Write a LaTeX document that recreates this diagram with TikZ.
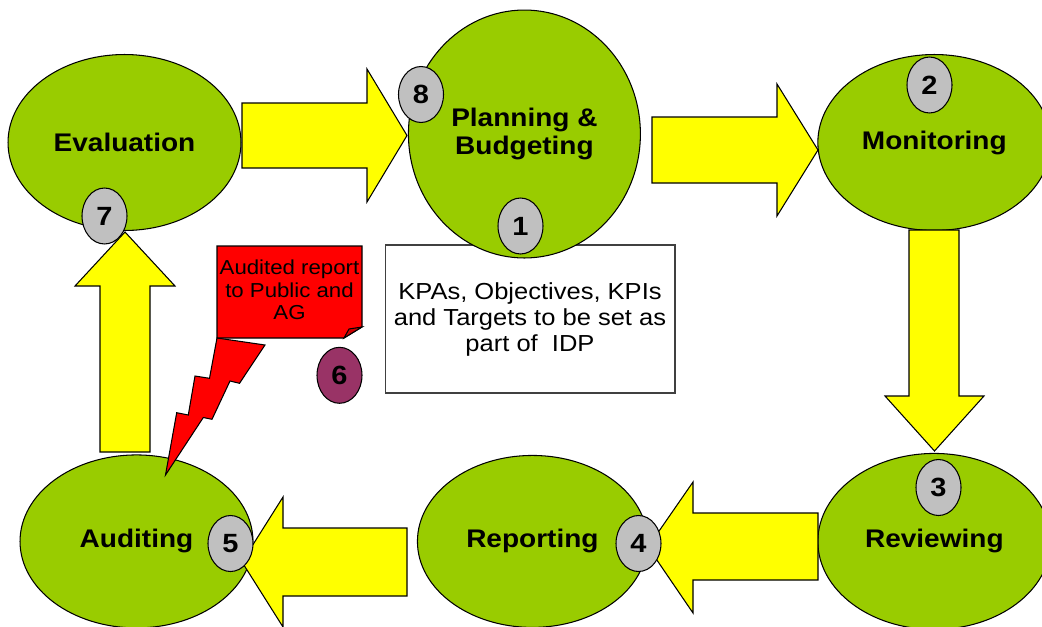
\documentclass[tikz,border=0pt]{standalone}
\usepackage{fontspec}
\setmainfont{Liberation Sans}
\newfontfamily\widefont[FakeStretch=1.1]{Liberation Sans}
\usetikzlibrary{positioning,shapes.geometric}
\definecolor{stagegreen}{HTML}{99CC00}
\definecolor{arrowyellow}{HTML}{FFFF00}
\definecolor{badgegray}{HTML}{C0C0C0}
\definecolor{badgeplum}{HTML}{993366}
\definecolor{notered}{HTML}{FF0000}

\begin{document}
\begin{tikzpicture}[
  x=0.02cm, y=-0.02cm,
  stage/.style={ellipse, draw=black, fill=stagegreen, line width=0.6pt,
    minimum width=4.66cm, minimum height=3.52cm, inner sep=0pt, align=center,
    font=\widefont\bfseries\fontsize{14.5}{16}\selectfont},
  badge/.style={ellipse, draw=black, fill=badgegray, line width=0.6pt,
    minimum width=0.9cm, minimum height=1.12cm, inner sep=0pt,
    font=\widefont\bfseries\fontsize{15}{15}\selectfont},
  infobox/.style={rectangle, draw=black!75, fill=white, line width=0.6pt,
    minimum width=5.8cm, minimum height=2.96cm, align=center,
    font=\widefont\fontsize{13.2}{14.8}\selectfont},
  fatarrow/.style={draw=black, fill=arrowyellow, line width=0.6pt},
  bolt/.style={draw=black, fill=notered, line width=0.6pt}
]

\useasboundingbox (0,0) rectangle (1042,626);

% Note under the planning stage
\node[infobox] (kpa) at (530,319) {KPAs, Objectives, KPIs\\and Targets to be set as\\part of \ IDP};

% Stages of the cycle
\node[stage] (eval) at (124.5,142.5) {Evaluation};
\node[stage, right of=eval, node distance=8cm, yshift=0.17cm, minimum width=4.64cm, minimum height=4.96cm] (plan) {Planning \&\\Budgeting};
\node[stage, right of=eval, node distance=16.2cm] (monit) {Monitoring};
\node[stage, below of=monit, node distance=7.98cm] (review) {Reviewing};
\node[stage, left of=review, node distance=8.04cm, minimum width=4.6cm, minimum height=3.44cm] (report) {Reporting};
\node[stage, left of=report, node distance=7.92cm, minimum height=3.46cm] (audit) {Auditing};

% Block arrows round the cycle
\filldraw[fatarrow] (242,103) -- (367,103) -- (367,69) -- (407,135.5) -- (367,202) -- (367,168) -- (242,168) -- cycle;
\filldraw[fatarrow] (652,117) -- (777,117) -- (777,84) -- (818,150) -- (777,216) -- (777,183) -- (652,183) -- cycle;
\filldraw[fatarrow] (909,230) -- (909,396) -- (885,396) -- (934.5,451) -- (984,396) -- (959,396) -- (959,230) -- cycle;
\filldraw[fatarrow] (818,513) -- (693,513) -- (693,482) -- (648,547) -- (693,613) -- (693,580) -- (818,580) -- cycle;
\filldraw[fatarrow] (407,528) -- (283,528) -- (283,497) -- (242,562) -- (283,627) -- (283,596) -- (407,596) -- cycle;
\filldraw[fatarrow] (100,452) -- (100,286) -- (75,286) -- (125,232) -- (175,286) -- (150,286) -- (150,452) -- cycle;

% Audit report callout with its lightning bolt
\filldraw[bolt] (217,338) -- (265,345) -- (239.5,383.3) -- (230,381) -- (212,419.3) -- (203.3,417.5) -- (165.5,475) -- (176.7,412.7) -- (188.3,415) -- (195,376) -- (209.5,378.3) -- cycle;
\filldraw[bolt] (217,246) -- (362,246) -- (362,327) -- (344,338) -- (217,338) -- cycle;
\filldraw[bolt, fill=notered!80!black] (362,327) -- (344,338) -- (349,329) -- cycle;
\node[align=center, font=\widefont\fontsize{11.5}{12.8}\selectfont] (note) at (289.5,290) {Audited report\\to Public and\\AG};

% Step numbers
\node[badge] (b1) at (520.5,226) {1};
\node[badge] (b2) at (929.5,85) {2};
\node[badge] (b3) at (938.5,487.5) {3};
\node[badge] (b4) at (638.5,543.5) {4};
\node[badge] (b5) at (230.5,543.5) {5};
\node[badge, fill=badgeplum] (b6) at (339.5,375.3) {6};
\node[badge] (b7) at (104.5,216) {7};
\node[badge] (b8) at (421,94.5) {8};

\end{tikzpicture}
\end{document}
